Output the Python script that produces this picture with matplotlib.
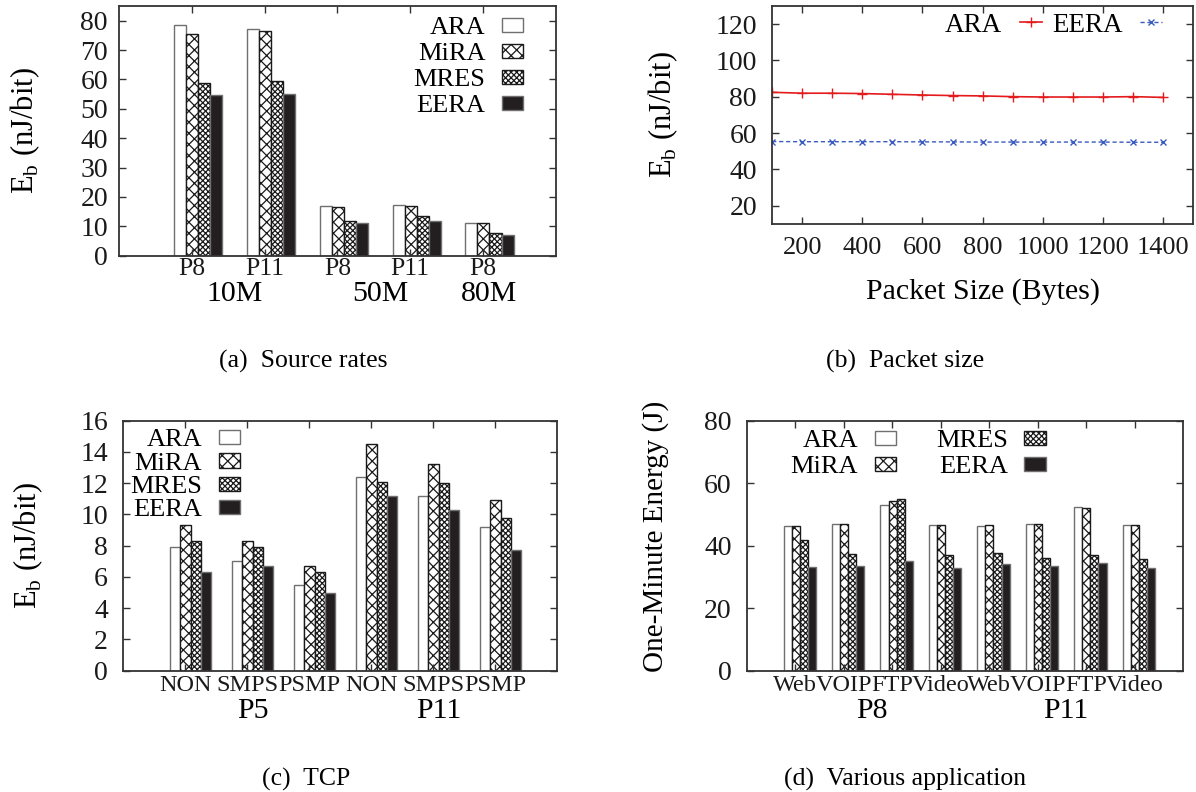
import numpy as np
import matplotlib
matplotlib.use('Agg')
import matplotlib.pyplot as plt

plt.rcParams['font.family'] = 'Liberation Serif'
plt.rcParams['mathtext.fontset'] = 'custom'
plt.rcParams['mathtext.rm'] = 'Liberation Serif'
plt.rcParams['hatch.linewidth'] = 0.9

W, H = 1196, 792

SERIES = ['ARA', 'MiRA', 'MRES', 'EERA']

# (a) source rates
rate_ticks = ['P8', 'P11', 'P8', 'P11', 'P8']
rate_groups = [('10M', [0, 1]), ('50M', [2, 3]), ('80M', [4])]
ara_rate = [78.5, 77.1, 16.8, 17.2, 11.1]
mira_rate = [75.5, 76.5, 16.5, 17.0, 11.0]
mres_rate = [58.9, 59.5, 11.9, 13.6, 7.6]
eera_rate = [54.7, 55.0, 11.0, 11.8, 6.9]

# (b) packet size
packet_sizes = [100, 200, 300, 400, 500, 600, 700, 800, 900, 1000, 1100, 1200, 1300, 1400]
ara_packet = [82.5, 82.0, 82.0, 81.8, 81.4, 81.0, 80.7, 80.5, 80.1, 79.9, 79.9, 79.9, 80.1, 79.7]
eera_packet = [55.4, 55.3, 55.3, 55.3, 55.3, 55.2, 55.2, 55.1, 55.1, 55.1, 55.1, 55.1, 55.0, 55.0]

# (c) TCP
tcp_ticks = ['NON', 'SMPS', 'PSMP', 'NON', 'SMPS', 'PSMP']
tcp_groups = [('P5', [0, 1, 2]), ('P11', [3, 4, 5])]
ara_tcp = [7.9, 7.0, 5.5, 12.4, 11.2, 9.2]
mira_tcp = [9.3, 8.3, 6.7, 14.5, 13.2, 10.9]
mres_tcp = [8.3, 7.9, 6.3, 12.1, 12.0, 9.8]
eera_tcp = [6.3, 6.7, 5.0, 11.2, 10.3, 7.7]

# (d) applications
app_ticks = ['Web', 'VOIP', 'FTP', 'Video', 'Web', 'VOIP', 'FTP', 'Video']
app_groups = [('P8', [0, 1, 2, 3]), ('P11', [4, 5, 6, 7])]
ara_app = [46.2, 47.0, 52.9, 46.7, 46.3, 47.0, 52.3, 46.7]
mira_app = [46.2, 46.8, 54.2, 46.5, 46.5, 46.8, 52.0, 46.5]
mres_app = [41.7, 37.2, 55.1, 36.9, 37.8, 36.2, 36.9, 35.7]
eera_app = [33.2, 33.6, 35.1, 32.8, 34.1, 33.6, 34.5, 32.8]

BAR_STYLE = {
    'ARA': dict(facecolor='white', edgecolor='#707070', hatch=None),
    'MiRA': dict(facecolor='white', edgecolor='#1a1a1a', hatch='xxx'),
    'MRES': dict(facecolor='white', edgecolor='#1a1a1a', hatch='xxxxxx'),
    'EERA': dict(facecolor='#231f20', edgecolor='#707070', hatch=None),
}


def add_axes_px(fig, left, top, right, bottom):
    return fig.add_axes([left / W, 1 - bottom / H, (right - left) / W, (bottom - top) / H])


def style_frame(ax, ypad):
    for s in ax.spines.values():
        s.set_linewidth(1.3)
        s.set_color('#333333')
    ax.tick_params(direction='in', length=5, width=1, top=True, right=True,
                   colors='#333333', labelcolor='#1a1a1a')
    ax.tick_params(axis='y', labelsize=20, pad=ypad)


def bar_panel(ax, values, ticks, groups, tick_size, tick_pad, group_off):
    x = np.arange(len(ticks))
    width = 0.166
    shift = 0.09
    for k, name in enumerate(SERIES):
        ax.bar(x + shift + (k - 1.5) * width, values[k], width, label=name,
               linewidth=1.0, **BAR_STYLE[name])
    ax.set_xlim(-1, len(ticks))
    ax.set_xticks(x)
    ax.set_xticklabels(ticks)
    ax.tick_params(axis='x', labelsize=tick_size, pad=tick_pad)
    for label, idx in groups:
        ax.annotate(label, xy=(np.mean(idx) + shift, 0),
                    xycoords=('data', 'axes fraction'),
                    xytext=(0, -group_off), textcoords='offset pixels',
                    ha='center', va='center', fontsize=21.5, annotation_clip=False)


def bar_legend(ax, anchor, spacing, ncol=1):
    ax.legend(loc='upper right', bbox_to_anchor=anchor, ncol=ncol,
              markerfirst=False, frameon=False, fontsize=19,
              borderpad=0, borderaxespad=0, handlelength=0.8,
              handleheight=0.46, handletextpad=0.64,
              labelspacing=spacing, columnspacing=1.5)


fig = plt.figure(figsize=(W / 100, H / 100), dpi=100)
ylab = 'E$_{\\mathrm{b}}$ (nJ/bit)'

# (a)
ax = add_axes_px(fig, 119, 6, 555.7, 255.7)
bar_panel(ax, [ara_rate, mira_rate, mres_rate, eera_rate], rate_ticks, rate_groups, 18.5, 1.5, 38)
ax.set_ylim(0, 85)
ax.set_yticks(range(0, 81, 10))
style_frame(ax, 8)
ax.set_ylabel(ylab, fontsize=22, va='center')
ax.yaxis.set_label_coords(-0.215, 0.5)
bar_legend(ax, (0.926, 0.955), 0.15)

# (b)
ax = add_axes_px(fig, 772.2, 6, 1193, 224)
ax.plot(packet_sizes, ara_packet, color='#e41a1c', lw=1.2, marker='+', ms=7,
        mew=1, label='ARA')
ax.plot(packet_sizes, eera_packet, color='#3a5bbf', lw=1.0, ls=(0, (3, 2)),
        marker='x', ms=4.5, mew=1, label='EERA')
ax.set_xlim(100, 1500)
ax.set_ylim(10, 130)
ax.set_xticks(range(200, 1401, 200))
ax.set_yticks(range(20, 121, 20))
style_frame(ax, 11)
ax.tick_params(axis='x', labelsize=19, pad=9)
ax.set_ylabel(ylab, fontsize=22, va='center')
ax.yaxis.set_label_coords(-0.26, 0.5)
ax.set_xlabel('Packet Size (Bytes)', fontsize=21.5, va='center')
ax.xaxis.set_label_coords(0.5, -0.31)
ax.legend(loc='center right', bbox_to_anchor=(0.926, 0.912), ncol=2,
          markerfirst=False, frameon=False, fontsize=19.5, borderpad=0,
          borderaxespad=0, handlelength=0.8, handletextpad=0.65,
          columnspacing=0.38)

# (c)
ax = add_axes_px(fig, 123.2, 420.7, 557, 670.7)
bar_panel(ax, [ara_tcp, mira_tcp, mres_tcp, eera_tcp], tcp_ticks, tcp_groups, 17.5, 3, 40)
ax.set_ylim(0, 16)
ax.set_yticks(range(0, 17, 2))
style_frame(ax, 11)
ax.set_ylabel(ylab, fontsize=22, va='center')
ax.yaxis.set_label_coords(-0.218, 0.5)
bar_legend(ax, (0.269, 0.965), 0.05)

# (d)
ax = add_axes_px(fig, 746.8, 420.7, 1183, 670.7)
bar_panel(ax, [ara_app, mira_app, mres_app, eera_app], app_ticks, app_groups, 17.5, 3, 40)
ax.set_ylim(0, 80)
ax.set_yticks(range(0, 81, 20))
style_frame(ax, 11)
ax.set_ylabel('One-Minute Energy (J)', fontsize=21, va='center')
ax.yaxis.set_label_coords(-0.21, 0.536)
bar_legend(ax, (0.685, 0.962), 0.15, ncol=2)

captions = [('(a)  Source rates', 303, 361), ('(b)  Packet size', 905, 361),
            ('(c)  TCP', 306, 779), ('(d)  Various application', 905, 779)]
for text, cx, cy in captions:
    fig.text(cx / W, 1 - cy / H, text, ha='center', va='center', fontsize=18.5)

fig.savefig('out.png', dpi=100)
